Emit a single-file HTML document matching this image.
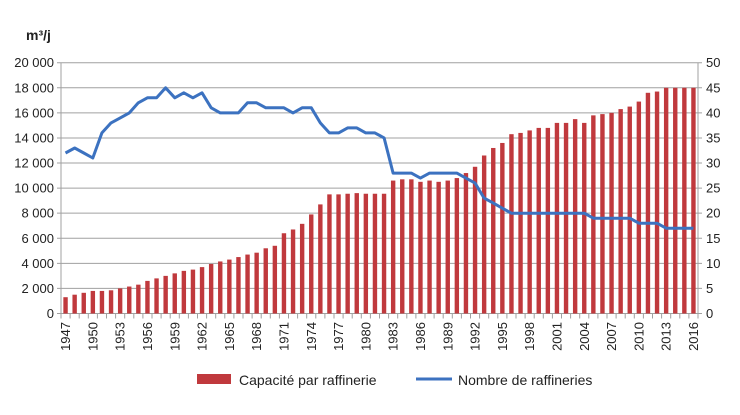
<!DOCTYPE html>
<html><head><meta charset="utf-8"><style>
html,body{margin:0;padding:0;background:#fff;}
svg{display:block;font-family:"Liberation Sans",sans-serif;}
</style></head><body>
<svg id="c" width="740" height="415" xmlns="http://www.w3.org/2000/svg"></svg>
<script>
const bars=[1300,1500,1650,1800,1800,1850,2000,2150,2300,2600,
2800,3000,3200,3400,3500,3700,3950,4150,4300,4500,
4700,4850,5200,5400,6400,6700,7150,7900,8700,9500,
9500,9550,9600,9550,9550,9550,10600,10700,10700,10500,
10600,10500,10600,10800,11200,11700,12600,13200,13600,14300,
14400,14600,14800,14800,15200,15200,15500,15200,15800,15900,
16000,16300,16500,16900,17600,17700,18000,18000,18000,18000];
const line=[32,33,32,31,36,38,39,40,42,43,43,45,43,44,43,44,41,40,40,40,
42,42,41,41,41,40,41,41,38,36,36,37,37,36,36,35,28,28,28,27,
28,28,28,28,27,26,23,22,21,20,20,20,20,20,20,20,20,20,19,19,
19,19,19,18,18,18,17,17,17,17];
const L=61,R=698,Y0=313.5,Y1=62.7,n=70,w=(R-L)/n;
const y=v=>Y0-(Y0-Y1)*v/20000;
let s='';
s+='<text x="26" y="40" font-size="14" font-weight="bold" fill="#222">m³/j</text>';
for(let i=0;i<=10;i++){const v=i*2000,yy=y(v);
 s+=`<line x1="${L-4}" x2="${R+4}" y1="${yy}" y2="${yy}" stroke="#a0a0a0" stroke-width="1"/>`;
 s+=`<text x="${L-7}" y="${yy+4.5}" font-size="13" text-anchor="end" fill="#222">${v===0?'0':(v/1000)+' 000'}</text>`;
 s+=`<text x="${R+8}" y="${yy+4.5}" font-size="13" fill="#222">${i*5}</text>`;}
s+=`<line x1="${L}" x2="${L}" y1="${Y1}" y2="${Y0}" stroke="#a0a0a0"/>`;
s+=`<line x1="${R}" x2="${R}" y1="${Y1}" y2="${Y0}" stroke="#a0a0a0"/>`;
for(let i=0;i<=n;i++){const x=L+i*w;s+=`<line x1="${x}" x2="${x}" y1="${Y0}" y2="${Y0+5}" stroke="#a0a0a0"/>`;}
for(let i=0;i<n;i++){const cx=L+(i+.5)*w,h=y(bars[i]);
 s+=`<rect x="${cx-2.2}" y="${h}" width="4.4" height="${Y0-h}" fill="#c0393d"/>`;}
let p=line.map((v,i)=>`${(L+(i+.5)*w).toFixed(1)},${y(v*400).toFixed(1)}`).join(' ');
s+=`<polyline points="${p}" fill="none" stroke="#3c72c0" stroke-width="3" stroke-linejoin="round"/>`;
for(let i=0;i<n;i+=3){const cx=L+(i+.5)*w+4.5;
 s+=`<text transform="translate(${cx},322) rotate(-90)" font-size="13" text-anchor="end" fill="#222">${1947+i}</text>`;}
s+=`<rect x="197" y="374" width="34" height="10" fill="#c0393d"/>`;
s+=`<text x="239" y="385" font-size="14" fill="#222">Capacité par raffinerie</text>`;
s+=`<line x1="416" x2="452" y1="379" y2="379" stroke="#3c72c0" stroke-width="3"/>`;
s+=`<text x="458" y="385" font-size="14" fill="#222">Nombre de raffineries</text>`;
document.getElementById('c').innerHTML=s;
</script>
</body></html>
